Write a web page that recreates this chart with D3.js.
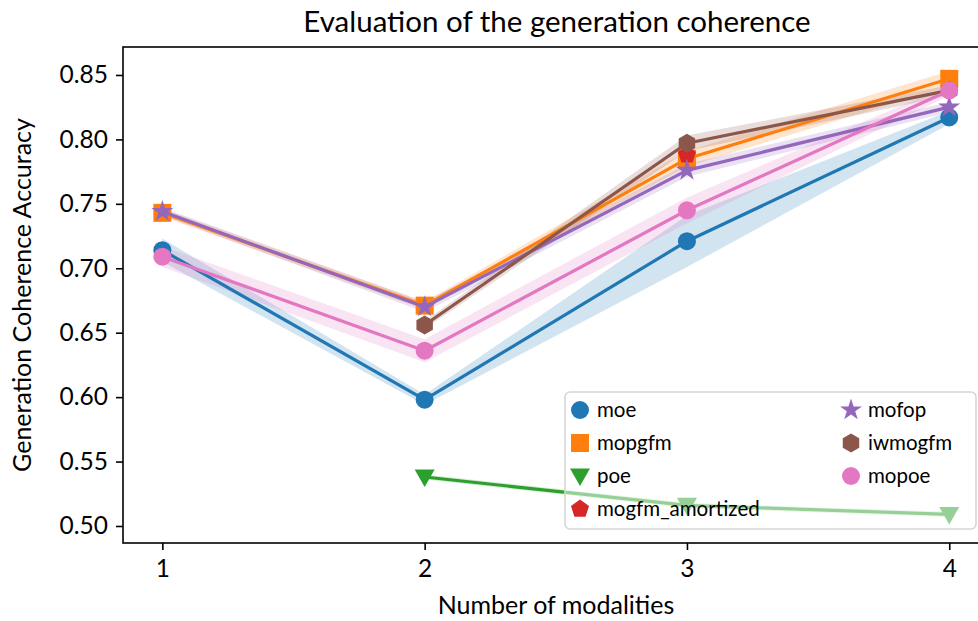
<!DOCTYPE html>
<html>
<head>
<meta charset="utf-8">
<script src="https://cdn.jsdelivr.net/npm/d3@7"></script>
<style>
  html, body { margin: 0; padding: 0; background: #fff; }
  svg { display: block; font-family: Lato, "DejaVu Sans", sans-serif; }
</style>
</head>
<body>
<svg id="chart" width="978" height="621"></svg>
<script>
// Number of modalities on the x axis
const modalities = [1, 2, 3, 4];
const yTicks = [0.50, 0.55, 0.60, 0.65, 0.70, 0.75, 0.80, 0.85];

// Mean coherence accuracy per method (null = not evaluated)
const moe      = [0.714, 0.598, 0.721, 0.817];
const mopgfm   = [0.743, 0.671, 0.785, 0.847];
const poe      = [null, 0.538, 0.516, 0.509];
const mogfmAmortized = [null, null, 0.788, null];
const mofop    = [0.744, 0.670, 0.776, 0.825];
const iwmogfm  = [null, 0.656, 0.797, 0.838];
const mopoe    = [0.709, 0.636, 0.745, 0.838];

// Standard deviation across runs
const moeStd      = [0.009, 0.004, 0.020, 0.005];
const mopgfmStd   = [0.003, 0.003, 0.006, 0.006];
const poeStd      = [null, 0.002, 0.002, 0.002];
const mogfmAmortizedStd = [null, null, 0.004, null];
const mofopStd    = [0.003, 0.004, 0.005, 0.004];
const iwmogfmStd  = [null, 0.003, 0.006, 0.004];
const mopoeStd    = [0.008, 0.009, 0.010, 0.004];

const seriesNames = ["moe", "mopgfm", "poe", "mogfm_amortized", "mofop", "iwmogfm", "mopoe"];
const seriesMeans = [moe, mopgfm, poe, mogfmAmortized, mofop, iwmogfm, mopoe];
const seriesStds  = [moeStd, mopgfmStd, poeStd, mogfmAmortizedStd, mofopStd, iwmogfmStd, mopoeStd];
const seriesColors = ["#1f77b4", "#ff7f0e", "#2ca02c", "#d62728", "#9467bd", "#8c564b", "#e377c2"];
const seriesMarkers = ["circle", "square", "triangleDown", "pentagon", "star", "hexagon", "circle"];

const svg = d3.select("#chart");

// Plot area
const plotLeft = 123, plotTop = 47, plotBottom = 543;
const x = d3.scaleLinear().domain([0.85, 4.15]).range([plotLeft, plotLeft + 3.3 * 262.3]);
const y = d3.scaleLinear().domain([0.4868, 0.8717]).range([plotBottom, plotTop]);

// Marker shapes
function polygonType(n, rot) {
  return {
    draw(ctx, size) {
      const r = Math.sqrt(size) / 2;
      for (let i = 0; i < n; i++) {
        const a = rot + i * 2 * Math.PI / n;
        const px = r * Math.sin(a), py = -r * Math.cos(a);
        if (i === 0) ctx.moveTo(px, py); else ctx.lineTo(px, py);
      }
      ctx.closePath();
    }
  };
}
const triangleDownType = {
  draw(ctx, size) {
    const r = Math.sqrt(size) / 2;
    ctx.moveTo(0, r);
    ctx.lineTo(-r, -r * 0.75);
    ctx.lineTo(r, -r * 0.75);
    ctx.closePath();
  }
};
const circleType = {
  draw(ctx, size) { const r = Math.sqrt(size) / 2; ctx.moveTo(r, 0); ctx.arc(0, 0, r, 0, 2 * Math.PI); }
};
const squareType = {
  draw(ctx, size) { const r = Math.sqrt(size) / 2; ctx.rect(-r, -r, 2 * r, 2 * r); }
};
const starType = {
  draw(ctx, size) {
    const R = Math.sqrt(size) / 2 * 1.1, ri = R * 0.382;
    for (let i = 0; i < 10; i++) {
      const rr = i % 2 ? ri : R;
      const a = i * Math.PI / 5;
      const px = rr * Math.sin(a), py = -rr * Math.cos(a);
      if (i === 0) ctx.moveTo(px, py); else ctx.lineTo(px, py);
    }
    ctx.closePath();
  }
};
const markerTypes = {
  circle: circleType,
  square: squareType,
  triangleDown: triangleDownType,
  pentagon: polygonType(5, 0),
  hexagon: polygonType(6, 0),
  star: starType
};
const markerDiam = { circle: 18, square: 18, triangleDown: 20, pentagon: 19, hexagon: 19, star: 21 };
function markerPath(kind) {
  const d = markerDiam[kind];
  return d3.symbol().type(markerTypes[kind]).size(d * d)();
}

// Clip to the axes area
svg.append("defs").append("clipPath").attr("id", "plotClip")
  .append("rect").attr("x", plotLeft).attr("y", plotTop)
  .attr("width", x.range()[1] - plotLeft).attr("height", plotBottom - plotTop);

const plot = svg.append("g").attr("clip-path", "url(#plotClip)");

// Std bands first, beneath every line
seriesMeans.forEach((m, i) => {
  const pts = modalities.map((mx, j) => ({ mx, v: m[j], s: seriesStds[i][j] }))
    .filter(p => p.v != null);
  if (pts.length < 2) return;
  const area = d3.area().x(p => x(p.mx)).y0(p => y(p.v - p.s)).y1(p => y(p.v + p.s));
  plot.append("path").attr("d", area(pts))
    .attr("fill", seriesColors[i]).attr("fill-opacity", 0.2);
});

// Lines and markers, in plotting order
seriesMeans.forEach((m, i) => {
  const pts = modalities.map((mx, j) => ({ mx, v: m[j] })).filter(p => p.v != null);
  const line = d3.line().x(p => x(p.mx)).y(p => y(p.v));
  if (pts.length > 1) {
    plot.append("path").attr("d", line(pts))
      .attr("fill", "none").attr("stroke", seriesColors[i])
      .attr("stroke-width", 3.2).attr("stroke-linejoin", "round");
  }
  const mp = markerPath(seriesMarkers[i]);
  plot.selectAll(null).data(pts).join("path")
    .attr("d", mp)
    .attr("transform", p => `translate(${x(p.mx)},${y(p.v)})`)
    .attr("fill", seriesColors[i]);
});

// Axes
const xAxis = d3.axisBottom(x).tickValues(modalities).tickFormat(d3.format("d"))
  .tickSize(7).tickPadding(10);
const yAxis = d3.axisLeft(y).tickValues(yTicks).tickFormat(d3.format(".2f"))
  .tickSize(7).tickPadding(8);

const gx = svg.append("g").attr("transform", `translate(0,${plotBottom})`).call(xAxis);
const gy = svg.append("g").attr("transform", `translate(${plotLeft},0)`).call(yAxis);
[gx, gy].forEach(g => {
  g.select(".domain").remove();
  g.selectAll(".tick line").attr("stroke", "#000").attr("stroke-width", 1.6);
  g.selectAll(".tick text").attr("fill", "#000").attr("font-size", 24.5)
    .attr("font-family", "Lato, 'DejaVu Sans', sans-serif");
});

// Axes frame
svg.append("rect").attr("x", plotLeft).attr("y", plotTop)
  .attr("width", x.range()[1] - plotLeft).attr("height", plotBottom - plotTop)
  .attr("fill", "none").attr("stroke", "#000").attr("stroke-width", 1.6);

// Title and axis labels
svg.append("text").attr("x", 557).attr("y", 32).attr("text-anchor", "middle")
  .attr("font-size", 29.5).text("Evaluation of the generation coherence");
svg.append("text").attr("x", 556).attr("y", 614).attr("text-anchor", "middle")
  .attr("font-size", 25).text("Number of modalities");
svg.append("text").attr("transform", "translate(31,295) rotate(-90)")
  .attr("text-anchor", "middle").attr("font-size", 25)
  .text("Generation Coherence Accuracy");

// Legend, two columns filled column by column
const legend = svg.append("g");
legend.append("rect").attr("x", 565).attr("y", 392).attr("width", 411).attr("height", 137)
  .attr("rx", 5).attr("fill", "#fff").attr("fill-opacity", 0.5)
  .attr("stroke", "#d6d6d6").attr("stroke-width", 1.6);
const rowY = [410, 443, 476, 509];
const colX = [580, 851];
seriesNames.forEach((name, i) => {
  const col = i < 4 ? 0 : 1, row = i < 4 ? i : i - 4;
  const cx = colX[col], cy = rowY[row];
  legend.append("path").attr("d", markerPath(seriesMarkers[i]))
    .attr("transform", `translate(${cx},${cy})`).attr("fill", seriesColors[i]);
  legend.append("text").attr("x", cx + 17).attr("y", cy + 7)
    .attr("font-size", 20.5).text(name);
});
</script>
</body>
</html>
